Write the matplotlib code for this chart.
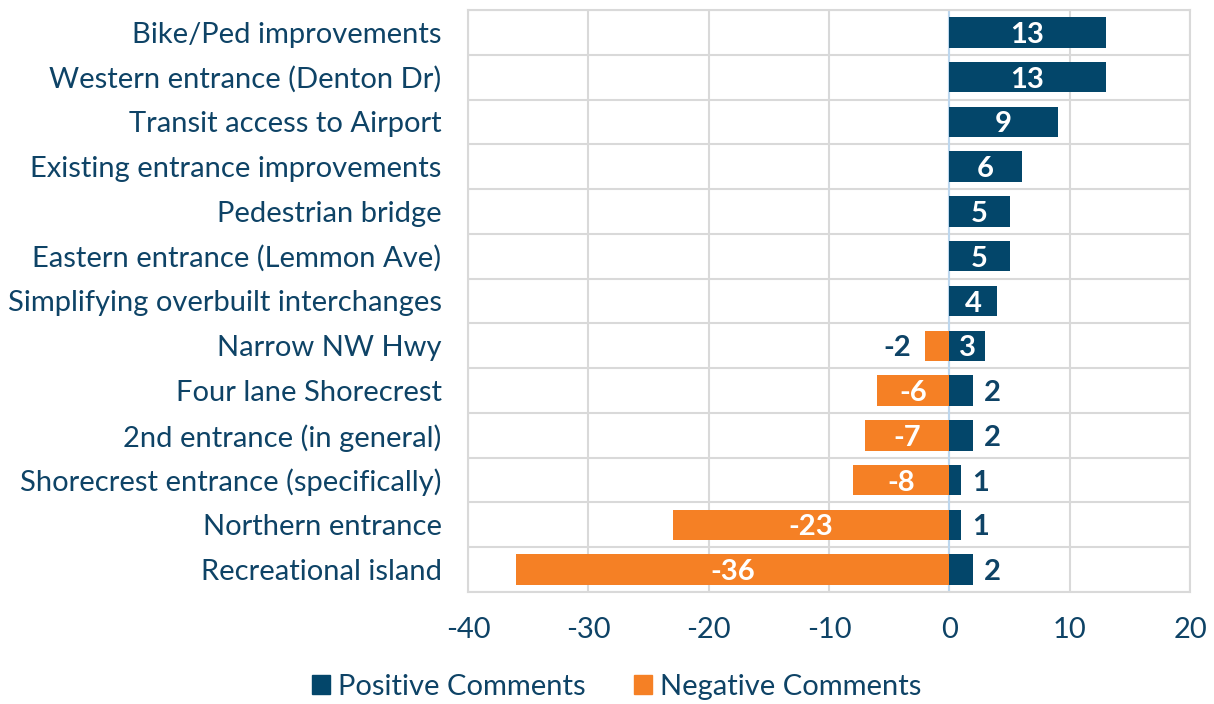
import matplotlib.pyplot as plt
import matplotlib.ticker as mticker
from matplotlib.patches import Patch

# Data
categories = ['Bike/Ped improvements', 'Western entrance (Denton Dr)', 'Transit access to Airport',
              'Existing entrance improvements', 'Pedestrian bridge', 'Eastern entrance (Lemmon Ave)',
              'Simplifying overbuilt interchanges', 'Narrow NW Hwy', 'Four lane Shorecrest',
              '2nd entrance (in general)', 'Shorecrest entrance (specifically)', 'Northern entrance',
              'Recreational island']
positive = [13, 13, 9, 6, 5, 5, 4, 3, 2, 2, 1, 1, 2]
negative = [0, 0, 0, 0, 0, 0, 0, -2, -6, -7, -8, -23, -36]
x_ticks = [-40, -30, -20, -10, 0, 10, 20]

blue = '#03466A'
orange = '#F58025'
text_color = '#0E4366'

plt.rcParams['font.family'] = ['Lato', 'DejaVu Sans']

fig = plt.figure(figsize=(12.14, 7.04), dpi=100)
ax = fig.add_axes([468/1214, 1 - 592/704, (1190-468)/1214, (592-10)/704])

y = list(range(len(categories)))
ax.barh(y, positive, height=0.68, color=blue, zorder=3)
ax.barh(y, negative, height=0.68, color=orange, zorder=3)

# bar labels
fs = 21
for yi, v in zip(y, positive):
    if v >= 3:
        ax.text(v / 2, yi, str(v), ha='center', va='center_baseline', color='white',
                fontsize=fs, fontweight='bold', zorder=4)
    else:
        ax.text(v + 1.6, yi, str(v), ha='center', va='center_baseline', color=text_color,
                fontsize=fs, fontweight='bold', zorder=4)
for yi, v in zip(y, negative):
    if v == 0:
        continue
    if v <= -5:
        ax.text(v / 2, yi, str(v), ha='center', va='center_baseline', color='white',
                fontsize=fs, fontweight='bold', zorder=4)
    else:
        ax.text(v - 2.3, yi, str(v), ha='center', va='center_baseline', color=text_color,
                fontsize=fs, fontweight='bold', zorder=4)

ax.set_xlim(-40, 20)
ax.set_ylim(len(categories) - 0.5, -0.5)
ax.set_xticks(x_ticks)
ax.set_xticklabels([str(t) for t in x_ticks])
ax.set_yticks(y)
ax.set_yticklabels(categories)
ax.yaxis.set_minor_locator(mticker.FixedLocator([i - 0.5 for i in range(len(categories) + 1)]))
ax.tick_params(axis='both', which='both', length=0, labelsize=fs, colors=text_color)
ax.tick_params(axis='x', pad=18)
ax.tick_params(axis='y', pad=19)

ax.grid(axis='x', which='major', color='#D9D9D9', linewidth=1.5, zorder=0)
ax.grid(axis='y', which='minor', color='#D9D9D9', linewidth=1.5, zorder=0)
ax.axvline(0, color='#BDD7EE', linewidth=1.5, zorder=2)
for s in ax.spines.values():
    s.set_color('#D9D9D9')
    s.set_linewidth(1.5)

handles = [Patch(color=blue, label='Positive Comments'),
           Patch(color=orange, label='Negative Comments')]
leg = fig.legend(handles=handles, loc='center', bbox_to_anchor=(617/1214, 1 - 687/704), ncol=2,
                 frameon=False, fontsize=fs, handlelength=0.6, handleheight=0.6,
                 handletextpad=0.3, columnspacing=1.65)
for t in leg.get_texts():
    t.set_color(text_color)

fig.savefig('out.png', dpi=100)
